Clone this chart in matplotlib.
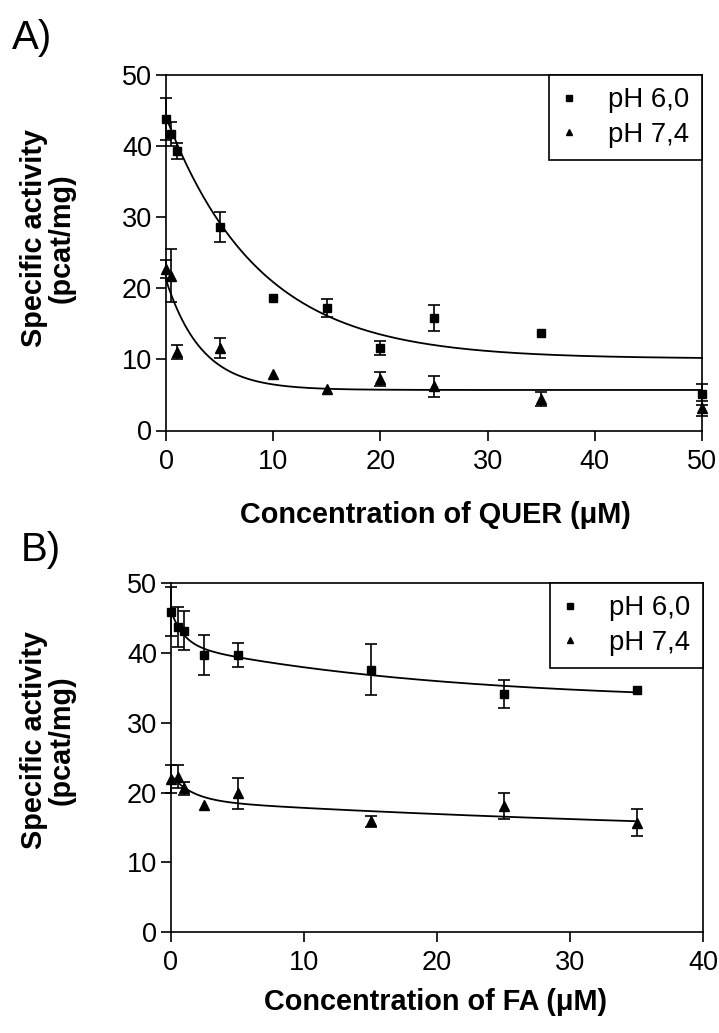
import numpy as np
import matplotlib
matplotlib.use("Agg")
import matplotlib.pyplot as plt

plt.rcParams['font.family'] = ['Liberation Sans', 'DejaVu Sans']

# ---------------- Data ----------------
# Panel A: quercetin
quer_conc = [0, 0.5, 1, 5, 10, 15, 20, 25, 35, 50]
quer_ph60 = [43.8, 41.7, 39.3, 28.6, 18.6, 17.2, 11.6, 15.8, 13.7, 5.1]
quer_ph60_err = [2.9, 1.7, 1.1, 2.1, 0, 1.3, 1.0, 1.8, 0, 1.5]
quer_ph74 = [22.7, 21.8, 11.0, 11.6, 7.9, 5.9, 7.2, 6.2, 4.4, 3.1]
quer_ph74_err = [1.3, 3.7, 1.0, 1.4, 0, 0, 1.0, 1.5, 1.0, 1.0]

# Panel B: ferulic acid
fa_conc = [0, 0.5, 1, 2.5, 5, 15, 25, 35]
fa_ph60 = [45.9, 43.7, 43.2, 39.7, 39.7, 37.6, 34.1, 34.7]
fa_ph60_err = [3.5, 2.8, 2.8, 2.9, 1.7, 3.6, 2.0, 0]
fa_ph74 = [21.9, 22.3, 20.6, 18.2, 19.9, 15.9, 18.1, 15.7]
fa_ph74_err = [2.0, 1.7, 0.9, 0, 2.2, 0.8, 1.9, 1.9]

# fitted decay curves (plateau, amplitude, rate, amplitude2, rate2)
quer_fit_ph60 = [10.1, 34.0, 0.115, 0.0, 0.0]
quer_fit_ph74 = [5.7, 15.5, 0.30, 0.0, 0.0]
fa_fit_ph60 = [32.9, 4.8, 1.03, 8.3, 0.05]
fa_fit_ph74 = [12.97, 3.63, 0.62, 5.9, 0.02]

legend_labels = ["pH 6,0", "pH 7,4"]
yticks = [0, 10, 20, 30, 40, 50]
quer_xticks = [0, 10, 20, 30, 40, 50]
fa_xticks = [0, 10, 20, 30, 40]


def decay(x, p):
    return p[0] + p[1] * np.exp(-p[2] * x) + p[3] * np.exp(-p[4] * x)


W, H = 719, 1033
fig = plt.figure(figsize=(W / 100, H / 100), dpi=100)


def px_axes(left, top, right, bottom):
    return fig.add_axes([left / W, 1 - bottom / H, (right - left) / W, (bottom - top) / H])


def series(ax, x, y, e, marker, ms):
    x = np.asarray(x, float)
    y = np.asarray(y, float)
    e = np.asarray(e, float)
    m = e > 0
    eb = ax.errorbar(x[m], y[m], yerr=e[m], fmt='none', ecolor='black', capsize=4.5,
                     elinewidth=1.2, capthick=1.2, zorder=3)
    for c in eb.lines[1]:
        c.set_clip_on(False)
    for c in eb.lines[2]:
        c.set_clip_on(False)
    h, = ax.plot(x, y, linestyle='none', marker=marker, color='black', ms=ms,
                 clip_on=False, zorder=4)
    return h


def draw_panel(ax, x, y1, e1, y2, e2, f1, f2, xmax, xticks):
    xs = np.linspace(0, max(x), 400)
    ax.plot(xs, decay(xs, f1), color='black', lw=1.3, clip_on=False, zorder=2)
    ax.plot(xs, decay(xs, f2), color='black', lw=1.3, clip_on=False, zorder=2)
    h1 = series(ax, x, y1, e1, 's', 6)
    h2 = series(ax, x, y2, e2, '^', 6.5)
    ax.set_xlim(0, xmax)
    ax.set_ylim(0, 50)
    ax.set_xticks(xticks)
    ax.set_yticks(yticks)
    for s in ax.spines.values():
        s.set_linewidth(1.2)
    ax.tick_params(axis='both', direction='out', length=7.5, width=1.2, labelsize=19.5)
    ax.tick_params(axis='x', pad=5.5)
    ax.tick_params(axis='y', pad=2.5)
    leg = ax.legend([h1, h2], legend_labels, loc='upper right', fontsize=19.8,
                    handlelength=0.55, handletextpad=1.15, borderaxespad=0,
                    borderpad=0.45, labelspacing=0.3, markerscale=0.75,
                    fancybox=False, framealpha=1, edgecolor='black')
    leg.get_frame().set_linewidth(1.2)
    return ax


axA = px_axes(166, 75, 702, 430.5)
draw_panel(axA, quer_conc, quer_ph60, quer_ph60_err, quer_ph74, quer_ph74_err,
           quer_fit_ph60, quer_fit_ph74, 50, quer_xticks)
axB = px_axes(171, 583, 703, 932.3)
draw_panel(axB, fa_conc, fa_ph60, fa_ph60_err, fa_ph74, fa_ph74_err,
           fa_fit_ph60, fa_fit_ph74, 40, fa_xticks)

# axis labels
lab_kw = dict(fontsize=20.8, fontweight='bold', ha='center', va='center')
fig.text(435 / W, 1 - 515 / H, "Concentration of QUER (μM)", **lab_kw)
fig.text(436 / W, 1 - 1002 / H, "Concentration of FA (μM)", **lab_kw)
fig.text(48 / W, 1 - 238 / H, "Specific activity\n(pcat/mg)", rotation=90,
         linespacing=1.0, **lab_kw)
fig.text(48 / W, 1 - 740 / H, "Specific activity\n(pcat/mg)", rotation=90,
         linespacing=1.0, **lab_kw)

# panel letters
fig.text(12 / W, 1 - 38 / H, "A)", fontsize=29, ha='left', va='center')
fig.text(21 / W, 1 - 550 / H, "B)", fontsize=29, ha='left', va='center')

fig.savefig("out.png", dpi=100)
